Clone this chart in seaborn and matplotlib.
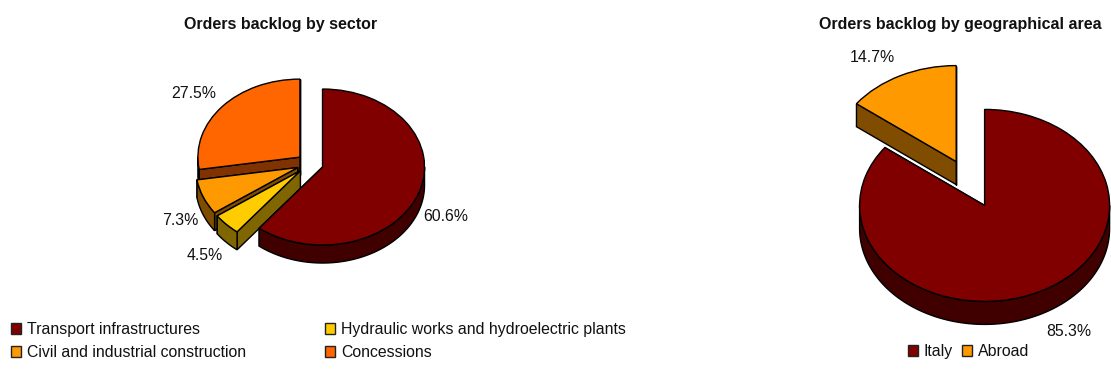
import numpy as np
import matplotlib
matplotlib.use("Agg")
import matplotlib.pyplot as plt
from matplotlib.patches import Patch, Polygon
import seaborn as sns

# Orders backlog shares, in percent
sector_names = ["Transport infrastructures", "Hydraulic works and hydroelectric plants",
                "Civil and industrial construction", "Concessions"]
sector_shares = [60.6, 4.5, 7.3, 27.5]
sector_colors = ["#800000", "#FFCC00", "#FF9900", "#FF6600"]

area_names = ["Italy", "Abroad"]
area_shares = [85.3, 14.7]
area_colors = ["#800000", "#FF9900"]

W, H = 1111, 371

sns.set_theme(style="white")
plt.rcParams["font.family"] = ["Liberation Sans", "DejaVu Sans"]
TEXT = "#111111"
FS = 11.4


def tilted_pie(fig, shares, colors, centre, rx, ry, depth, explode, paint_order):
    """Exploded pie with a squashed top face and extruded walls below it."""
    cx, cy = centre
    xspan, yspan = 1.5, 1.6
    ax = fig.add_axes([(cx - rx * xspan) / W, 1 - (cy + ry * yspan) / H,
                       2 * rx * xspan / W, 2 * ry * yspan / H])
    palette = sns.color_palette(colors)
    wedges, _ = ax.pie(shares, colors=palette, startangle=90, counterclock=False,
                       explode=[explode] * len(shares),
                       wedgeprops={"edgecolor": "black", "linewidth": 1.0})
    ax.set_aspect("auto")
    ax.set_xlim(-xspan, xspan)
    ax.set_ylim(-yspan, yspan)
    ax.axis("off")

    drop = depth / ry
    for rank, idx in enumerate(paint_order):
        w = wedges[idx]
        w.set_zorder(3 * rank + 2.5)
        w.set_clip_on(False)
        side = tuple(c * 0.5 for c in palette[idx])
        x0, y0 = w.center
        walls = []
        # straight cut walls
        for th in (w.theta1, w.theta2):
            ex = x0 + np.cos(np.radians(th))
            ey = y0 + np.sin(np.radians(th))
            walls.append([(x0, y0), (ex, ey), (ex, ey - drop), (x0, y0 - drop)])
        # curved outer wall, only along the front half of the rim
        a1, a2 = w.theta1 % 360, w.theta2 % 360
        if a2 <= a1:
            a2 += 360
        for lo, hi in ((180, 360), (540, 720)):
            s, e = max(a1, lo), min(a2, hi)
            if e > s:
                t = np.radians(np.linspace(s, e, 90))
                rim = np.column_stack([x0 + np.cos(t), y0 + np.sin(t)])
                low = rim[::-1] - [0, drop]
                walls.append(np.vstack([rim, low]))
        for poly in walls:
            ax.add_patch(Polygon(poly, closed=True, facecolor=side, edgecolor="black",
                                 linewidth=1.0, zorder=3 * rank + 1, clip_on=False))
    return ax


def square_legend(fig, names, colors, ncol, anchor, **kw):
    handles = [Patch(facecolor=c, edgecolor="#222222", linewidth=1.0) for c in colors]
    fig.legend(handles, names, ncol=ncol, loc="upper left", frameon=False,
               bbox_to_anchor=(anchor[0] / W, 1 - anchor[1] / H), fontsize=FS,
               labelcolor=TEXT, handlelength=0.63, handleheight=0.63,
               handletextpad=0.38, borderpad=0, borderaxespad=0, **kw)


fig = plt.figure(figsize=(W / 100, H / 100), dpi=100, facecolor="white")

tilted_pie(fig, sector_shares, sector_colors, (310, 163.7), 102, 78, 18, 0.13,
           paint_order=[3, 2, 1, 0])
tilted_pie(fig, area_shares, area_colors, (970.4, 183.5), 125, 96, 23, 0.255,
           paint_order=[0, 1])

# Titles
fig.text(281 / W, 1 - 25 / H, "Orders backlog by sector", ha="center", va="center",
         fontsize=11.5, fontweight="bold", color=TEXT)
fig.text(960.5 / W, 1 - 25 / H, "Orders backlog by geographical area", ha="center",
         va="center", fontsize=11.5, fontweight="bold", color=TEXT)

# Percentage labels
sector_label_xy = [(446, 216), (205, 255), (180, 221), (194, 94)]
area_label_xy = [(1069, 331), (872, 57)]
for shares, spots in ((sector_shares, sector_label_xy), (area_shares, area_label_xy)):
    for v, (px, py) in zip(shares, spots):
        fig.text(px / W, 1 - py / H, f"{v:.1f}%", ha="center", va="center",
                 fontsize=FS, color=TEXT)

# Legends (columns are filled top to bottom)
col_order = [0, 2, 1, 3]
square_legend(fig, [sector_names[i] for i in col_order],
              [sector_colors[i] for i in col_order], 2, (11, 322),
              columnspacing=5.0, labelspacing=0.5)
square_legend(fig, area_names, area_colors, 2, (908, 344), columnspacing=0.56)

fig.savefig("out.png", dpi=100, facecolor="white")
